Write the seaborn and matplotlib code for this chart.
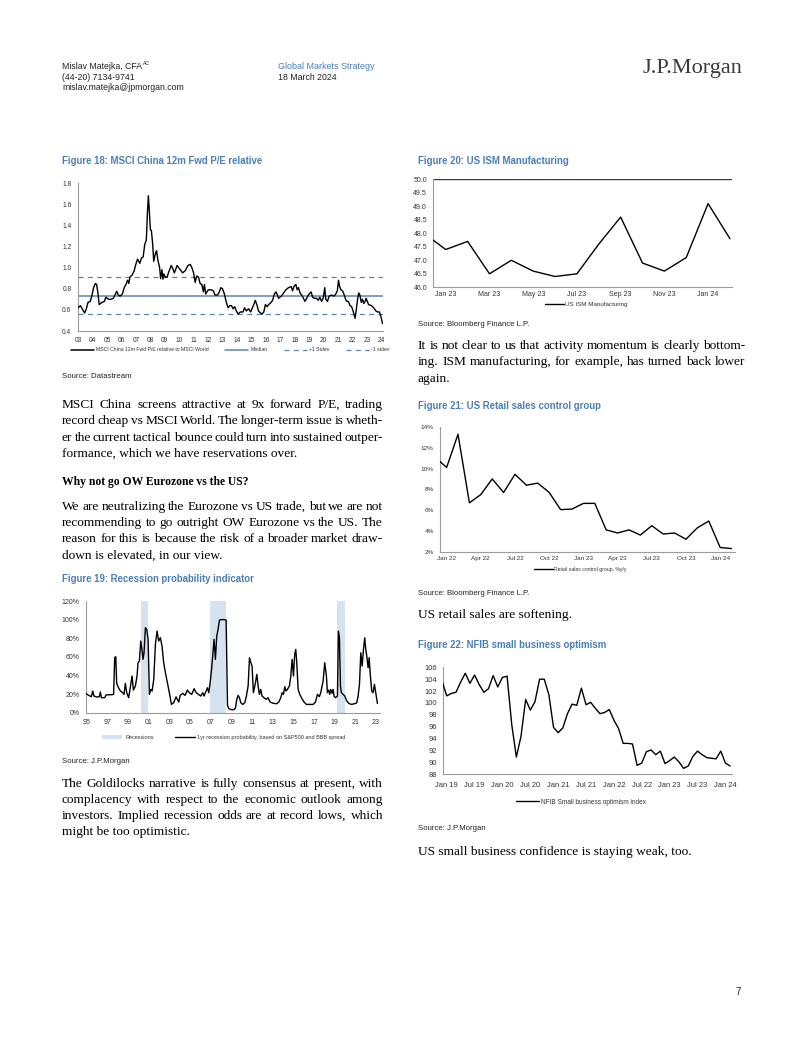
import numpy as np
import matplotlib
matplotlib.use("Agg")
import matplotlib.pyplot as plt
import seaborn as sns
from matplotlib import font_manager as fm
from matplotlib.lines import Line2D
from matplotlib.patches import Patch
from matplotlib.ticker import FixedLocator, FuncFormatter

# ---------------- data ----------------
# Figure 18: MSCI China 12m Fwd P/E relative to MSCI World
pe_year = [2003.0, 2003.16, 2003.32, 2003.45, 2003.57, 2003.68, 2003.84, 2003.96, 2004.07, 2004.19,
           2004.28, 2004.37, 2004.46, 2004.64, 2004.82, 2004.92, 2005.1, 2005.28, 2005.44, 2005.67,
           2005.78, 2005.9, 2006.06, 2006.19, 2006.31, 2006.42, 2006.51, 2006.58, 2006.74, 2006.88,
           2006.97, 2007.11, 2007.27, 2007.38, 2007.5, 2007.61, 2007.72, 2007.79, 2007.86, 2007.93,
           2008.0, 2008.07, 2008.16, 2008.23, 2008.34, 2008.43, 2008.52, 2008.64, 2008.71, 2008.8,
           2008.87, 2008.93, 2009.03, 2009.16, 2009.25, 2009.44, 2009.55, 2009.66, 2009.85, 2010.07,
           2010.23, 2010.41, 2010.6, 2010.76, 2010.87, 2010.99, 2011.1, 2011.21, 2011.33, 2011.44,
           2011.56, 2011.67, 2011.74, 2011.83, 2012.01, 2012.2, 2012.36, 2012.47, 2012.65, 2012.77,
           2012.88, 2012.99, 2013.1, 2013.27, 2013.38, 2013.5, 2013.61, 2013.73, 2013.84, 2013.95,
           2014.07, 2014.23, 2014.41, 2014.52, 2014.64, 2014.8, 2014.94, 2015.03, 2015.16, 2015.26,
           2015.37, 2015.48, 2015.62, 2015.73, 2015.85, 2015.96, 2016.08, 2016.19, 2016.35, 2016.46,
           2016.58, 2016.7, 2016.88, 2017.06, 2017.22, 2017.38, 2017.56, 2017.75, 2017.84, 2017.93,
           2018.07, 2018.16, 2018.25, 2018.36, 2018.52, 2018.7, 2018.82, 2018.93, 2019.12, 2019.23,
           2019.34, 2019.5, 2019.62, 2019.73, 2019.85, 2019.96, 2020.07, 2020.14, 2020.26, 2020.37,
           2020.53, 2020.71, 2020.83, 2020.94, 2021.02, 2021.1, 2021.19, 2021.3, 2021.42, 2021.51,
           2021.6, 2021.7, 2021.82, 2021.93, 2022.05, 2022.17, 2022.25, 2022.33, 2022.42, 2022.5,
           2022.6, 2022.68, 2022.78, 2022.86, 2022.93, 2023.1, 2023.3, 2023.46, 2023.6, 2023.73,
           2023.85, 2023.95, 2024.07]
pe_value = [0.62, 0.64, 0.60, 0.57, 0.61, 0.67, 0.68, 0.74, 0.81, 0.85,
            0.84, 0.76, 0.65, 0.67, 0.68, 0.72, 0.70, 0.70, 0.71, 0.775,
            0.74, 0.73, 0.75, 0.81, 0.84, 0.88, 0.85, 0.91, 0.93, 0.97,
            1.02, 1.08, 1.04, 1.09, 1.10, 1.22, 1.26, 1.50, 1.68, 1.53,
            1.36, 1.35, 1.22, 1.06, 1.13, 1.16, 1.07, 1.00, 0.895, 0.98,
            0.89, 0.94, 0.91, 0.91, 0.95, 1.02, 0.99, 0.95, 1.02, 0.98,
            0.95, 0.97, 1.02, 1.03, 1.00, 0.95, 0.86, 0.92, 0.91, 0.85,
            0.84, 0.77, 0.84, 0.75, 0.79, 0.79, 0.78, 0.74, 0.74, 0.77,
            0.81, 0.80, 0.76, 0.665, 0.62, 0.64, 0.64, 0.61, 0.63, 0.59,
            0.56, 0.58, 0.58, 0.62, 0.59, 0.61, 0.58, 0.61, 0.65, 0.69,
            0.65, 0.59, 0.57, 0.56, 0.58, 0.65, 0.63, 0.65, 0.67, 0.69,
            0.75, 0.77, 0.71, 0.73, 0.76, 0.79, 0.81, 0.82, 0.78, 0.82,
            0.84, 0.79, 0.81, 0.76, 0.73, 0.68, 0.71, 0.74, 0.77, 0.72,
            0.71, 0.71, 0.69, 0.72, 0.68, 0.71, 0.81, 0.70, 0.68, 0.73,
            0.74, 0.73, 0.75, 0.78, 0.88, 0.82, 0.79, 0.78, 0.74, 0.70,
            0.68, 0.68, 0.64, 0.63, 0.58, 0.52, 0.60, 0.69, 0.76, 0.74,
            0.67, 0.70, 0.66, 0.68, 0.71, 0.65, 0.64, 0.62, 0.59, 0.58,
            0.58, 0.54, 0.47]
pe_median = 0.735
pe_plus_sd = 0.91
pe_minus_sd = 0.56
pe_years_ticks = list(range(2003, 2025))
pe_tick_labels = [f"{y % 100:02d}" for y in pe_years_ticks]

# Figure 19: Recession probability indicator
rec_year = [1994.9, 1995.2, 1995.45, 1995.58, 1995.7, 1996.0, 1996.22, 1996.32, 1996.42, 1996.74,
            1996.87, 1997.13, 1997.39, 1997.6, 1997.71, 1997.81, 1997.9, 1998.03, 1998.26, 1998.48,
            1998.61, 1998.74, 1998.87, 1999.06, 1999.19, 1999.39, 1999.52, 1999.71, 1999.87, 1999.97,
            2000.1, 2000.23, 2000.36, 2000.45, 2000.55, 2000.68, 2000.81, 2000.94, 2001.07, 2001.2,
            2001.33, 2001.49, 2001.65, 2001.81, 2001.97, 2002.13, 2002.29, 2002.45, 2002.62, 2002.78,
            2003.0, 2003.2, 2003.42, 2003.65, 2003.91, 2004.05, 2004.3, 2004.52, 2004.75, 2004.94,
            2005.17, 2005.4, 2005.59, 2005.82, 2006.04, 2006.24, 2006.36, 2006.56, 2006.69, 2006.82,
            2006.95, 2007.07, 2007.2, 2007.33, 2007.46, 2007.59, 2007.72, 2007.85, 2008.08, 2008.3,
            2008.5, 2008.56, 2008.63, 2008.75, 2008.95, 2009.14, 2009.27, 2009.4, 2009.53, 2009.66,
            2009.79, 2009.92, 2010.11, 2010.3, 2010.43, 2010.63, 2010.76, 2010.89, 2011.01, 2011.14,
            2011.34, 2011.47, 2011.6, 2011.72, 2011.85, 2011.98, 2012.18, 2012.37, 2012.56, 2012.76,
            2013.08, 2013.4, 2013.6, 2013.79, 2013.92, 2014.05, 2014.18, 2014.3, 2014.43, 2014.63,
            2014.76, 2014.89, 2015.02, 2015.14, 2015.24, 2015.34, 2015.47, 2015.63, 2015.79, 2016.05,
            2016.27, 2016.6, 2016.92, 2017.15, 2017.34, 2017.53, 2017.66, 2017.89, 2018.05, 2018.21,
            2018.31, 2018.44, 2018.53, 2018.63, 2018.76, 2018.86, 2018.95, 2019.08, 2019.28, 2019.37,
            2019.47, 2019.57, 2019.66, 2019.83, 2019.99, 2020.18, 2020.38, 2020.63, 2020.96, 2021.15,
            2021.28, 2021.41, 2021.54, 2021.67, 2021.8, 2021.92, 2022.02, 2022.12, 2022.25, 2022.35,
            2022.47, 2022.6, 2022.73, 2022.86, 2022.99, 2023.15]
rec_prob = [20.8, 18.6, 17.2, 23.3, 17.9, 16.8, 17.2, 22.2, 16.1, 16.1,
            19.0, 19.3, 19.3, 19.7, 59.1, 60.1, 31.5, 27.9, 23.3, 21.5,
            19.7, 31.5, 21.5, 16.1, 25.0, 39.4, 24.3, 28.6, 39.4, 53.7,
            55.5, 77.0, 67.3, 57.3, 64.4, 91.3, 89.5, 78.8, 19.7, 25.0,
            23.3, 35.8, 73.4, 87.7, 77.0, 80.5, 71.6, 53.7, 43.0, 34.0,
            21.5, 9.0, 10.7, 17.0, 11.4, 18.6, 20.8, 18.6, 24.3, 21.5,
            19.7, 25.8, 21.5, 19.7, 17.9, 21.5, 17.9, 23.3, 26.8, 21.5,
            32.2, 44.7, 60.8, 78.8, 57.3, 82.3, 89.5, 99.5, 100.0, 100.0,
            99.5, 53.7, 8.0, 4.5, 3.5, 3.0, 3.5, 5.0, 14.3, 18.6,
            16.1, 10.7, 8.9, 10.7, 16.1, 28.6, 59.1, 53.7, 50.1, 21.5,
            32.2, 41.2, 28.6, 19.7, 25.0, 17.9, 16.1, 14.3, 16.1, 11.4,
            10.0, 9.7, 11.4, 16.1, 21.5, 19.7, 27.9, 23.3, 25.0, 28.6,
            39.4, 57.3, 39.4, 62.6, 68.0, 53.7, 25.0, 19.7, 16.1, 11.4,
            8.9, 8.9, 8.9, 11.4, 19.7, 17.2, 21.5, 34.0, 53.7, 39.4,
            21.5, 24.3, 19.7, 25.0, 20.8, 25.0, 17.9, 16.1, 17.9, 87.7,
            80.5, 28.6, 21.5, 19.7, 17.9, 12.5, 10.0, 8.9, 9.7, 10.7,
            17.9, 30.4, 64.4, 50.1, 68.0, 80.5, 68.0, 60.8, 48.3, 59.1,
            39.4, 23.3, 21.5, 30.4, 21.5, 10.0]
recession_start = [2000.22, 2006.98, 2019.22]
recession_end = [2000.95, 2008.48, 2019.99]
rec_tick_years = list(range(1995, 2024, 2))
rec_tick_labels = [f"{y % 100:02d}" for y in rec_tick_years]

# Figure 20: US ISM Manufacturing (Dec 22 .. Feb 24)
ism_months = ["Dec 22", "Jan 23", "Feb 23", "Mar 23", "Apr 23", "May 23", "Jun 23", "Jul 23",
              "Aug 23", "Sep 23", "Oct 23", "Nov 23", "Dec 23", "Jan 24", "Feb 24"]
ism_values = [48.0, 47.4, 47.7, 46.5, 47.0, 46.6, 46.4, 46.5, 47.6, 48.6, 46.9, 46.6, 47.1, 49.1, 47.8]
ism_threshold = 50.0

# Figure 21: US Retail sales control group, %y/y (Dec 21 .. Feb 24)
retail_months = ["Dec 21", "Jan 22", "Feb 22", "Mar 22", "Apr 22", "May 22", "Jun 22", "Jul 22",
                 "Aug 22", "Sep 22", "Oct 22", "Nov 22", "Dec 22", "Jan 23", "Feb 23", "Mar 23",
                 "Apr 23", "May 23", "Jun 23", "Jul 23", "Aug 23", "Sep 23", "Oct 23", "Nov 23",
                 "Dec 23", "Jan 24", "Feb 24"]
retail_values = [11.1, 10.1, 13.3, 6.7, 7.5, 9.0, 7.7, 9.45, 8.4, 8.6, 7.7, 6.05, 6.1, 6.65, 6.65,
                 4.1, 3.8, 4.1, 3.6, 4.5, 3.7, 3.8, 3.2, 4.3, 4.95, 2.4, 2.3]

# Figure 22: NFIB small business optimism (Dec 18 .. Feb 24)
nfib_months = ["Dec 18"] + [f"{m} {y}" for y in range(19, 24) for m in
               ["Jan", "Feb", "Mar", "Apr", "May", "Jun", "Jul", "Aug", "Sep", "Oct", "Nov", "Dec"]] + ["Jan 24", "Feb 24"]
nfib_values = [103.7,
               101.2, 101.6, 101.8, 103.5, 105.0, 103.3, 104.7, 103.1, 101.8, 102.4, 104.6, 102.7,
               104.3, 104.5, 96.4, 90.9, 94.4, 100.6, 98.8, 100.2, 104.0, 104.0, 101.4, 95.9,
               95.0, 95.8, 98.2, 99.8, 99.6, 102.5, 99.7, 100.1, 99.1, 98.2, 98.4, 98.9,
               97.1, 95.7, 93.2, 93.2, 93.1, 89.5, 89.9, 91.8, 92.1, 91.3, 91.9, 89.8,
               90.3, 90.9, 90.1, 89.0, 89.4, 91.0, 91.9, 91.3, 90.8, 90.7, 90.6, 91.9,
               89.9, 89.4]

# ---------------- style ----------------
sns.set_theme(style="white")
names = {f.name for f in fm.fontManager.ttflist}
SANS = "Liberation Sans" if "Liberation Sans" in names else "DejaVu Sans"
SERIF = "Liberation Serif" if "Liberation Serif" in names else "DejaVu Serif"
plt.rcParams['font.family'] = [SANS, 'DejaVu Sans']

BLUE = "#4a7ebb"
AXIS = "#9c9c9c"
TXT = "#333333"
BAND = "#d5e3f0"
REF = "#5b84b1"

W, H = 802, 1037
fig = plt.figure(figsize=(W / 100, H / 100), dpi=100)
fig.patch.set_facecolor("white")
renderer = fig.canvas.get_renderer()


def fy(y):
    return 1 - y / H


def add_axes(l, t, r, b):
    return fig.add_axes([l / W, 1 - b / H, (r - l) / W, (b - t) / H])


def style(ax, size):
    sns.despine(ax=ax)
    for s in ["left", "bottom"]:
        ax.spines[s].set_color(AXIS)
        ax.spines[s].set_linewidth(0.8)
    ax.tick_params(axis="both", labelsize=size, colors=TXT, length=2.5, width=0.6, pad=2)
    ax.tick_params(axis="both", which="both", color=AXIS)
    ax.set_xlabel("")
    ax.set_ylabel("")
    ax.grid(False)
    ax.set_facecolor("white")


def title(x, y, s):
    fig.text(x / W, fy(y + 3), s, family=SANS, weight="bold", size=6.9, color=BLUE, va="baseline")


def small(x, y, s, size=5.6, color="#222222"):
    fig.text(x / W, fy(y + 2.3), s, family=SANS, size=size, color=color, va="baseline")


BODY = dict(family=SERIF, color="black", va="baseline")


def word_width(s, weight, size):
    t = fig.text(0, 0, s, weight=weight, size=size, **BODY)
    w = t.get_window_extent(renderer).width
    t.remove()
    return w


def paragraph(x, right, y0, lines, step=16.5, weight="normal", size=9.6):
    """Justified paragraph (all words share one baseline); the last line is left-aligned."""
    for i, s in enumerate(lines):
        y = fy(y0 + i * step + 3.6)
        words = s.split(" ")
        if i == len(lines) - 1 or len(words) < 2:
            fig.text(x / W, y, s, weight=weight, size=size, **BODY)
            continue
        widths = [word_width(w_, weight, size) for w_ in words]
        gap = (right - x - sum(widths)) / (len(words) - 1)
        cx = x
        for w_, ww in zip(words, widths):
            fig.text(cx / W, y, w_, weight=weight, size=size, **BODY)
            cx += ww + gap


# ---------------- header ----------------
small(62, 67, "Mislav Matejka, CFA", 6.3)
small(143, 63, "AC", 3.6)
small(62, 77.5, "(44-20) 7134-9741", 6.3)
small(62, 88, "mislav.matejka@jpmorgan.com", 6.3)
small(278, 66.5, "Global Markets Strategy", 6.5, BLUE)
small(278, 77.5, "18 March 2024", 6.3)
fig.text(742 / W, fy(68), "J.P.Morgan", family=SERIF, size=16, color="#3a3a3a", va="center", ha="right")
fig.text(741 / W, fy(992), "7", family=SANS, size=7, color="#222222", va="center", ha="right")

# ---------------- Figure 18 ----------------
title(62, 161, "Figure 18: MSCI China 12m Fwd P/E relative")
ax = add_axes(77.7, 183, 383, 331)
ax.axhline(pe_plus_sd, color=REF, lw=0.9, ls=(0, (4, 3.5)), zorder=1)
ax.axhline(pe_minus_sd, color=REF, lw=0.9, ls=(0, (4, 3.5)), zorder=1)
ax.axhline(pe_median, color=REF, lw=1.1, zorder=1)
sns.lineplot(x=pe_year, y=pe_value, ax=ax, color="black", linewidth=1.0, estimator=None, sort=False,
             legend=False, zorder=3)
ax.set_xlim(2002.97, 2024.1)
ax.set_ylim(0.4, 1.8)
ax.yaxis.set_major_locator(FixedLocator(np.round(np.arange(0.4, 1.81, 0.2), 1)))
ax.yaxis.set_major_formatter(FuncFormatter(lambda v, p: f"{v:.1f}"))
ax.set_xticks(pe_years_ticks)
ax.set_xticklabels(pe_tick_labels)
style(ax, 4.8)
h18 = [Line2D([], [], color="black", lw=1.1), Line2D([], [], color=REF, lw=1.1),
       Line2D([], [], color=REF, lw=0.9, ls=(0, (4, 3.5))), Line2D([], [], color=REF, lw=0.9, ls=(0, (4, 3.5)))]
l18 = ["MSCI China 12m Fwd P/E relative to MSCI World", "Median", "+1 Stdev", "-1 stdev"]
ax.legend(h18, l18, loc="center", bbox_to_anchor=(0.5, -0.128), ncol=4, frameon=False,
          fontsize=3.7, handlelength=4.5, handletextpad=0.4, columnspacing=3.2, labelcolor=TXT)
small(62, 376, "Source: Datastream")

paragraph(62, 383, 404, ["MSCI China screens attractive at 9x forward P/E, trading",
                         "record cheap vs MSCI World. The longer-term issue is wheth-",
                         "er the current tactical bounce could turn into sustained outper-",
                         "formance, which we have reservations over."])
paragraph(62, 383, 481, ["Why not go OW Eurozone vs the US?"], weight="bold", size=8.4)
paragraph(62, 383, 506, ["We are neutralizing the Eurozone vs US trade, but we are not",
                         "recommending to go outright OW Eurozone vs the US. The",
                         "reason for this is because the risk of a broader market draw-",
                         "down is elevated, in our view."], step=16.3)

# ---------------- Figure 19 ----------------
title(62, 579, "Figure 19: Recession probability indicator")
ax = add_axes(85.7, 601, 380, 712.7)
for a, b in zip(recession_start, recession_end):
    ax.axvspan(a, b, color=BAND, lw=0, zorder=0)
sns.lineplot(x=rec_year, y=rec_prob, ax=ax, color="black", linewidth=1.0, estimator=None, sort=False,
             legend=False, zorder=3)
ax.set_xlim(1994.9, 2023.4)
ax.set_ylim(0, 120)
ax.yaxis.set_major_locator(FixedLocator(range(0, 121, 20)))
ax.yaxis.set_major_formatter(FuncFormatter(lambda v, p: f"{v:.0f}%"))
ax.set_xticks(rec_tick_years)
ax.set_xticklabels(rec_tick_labels)
style(ax, 5.0)
h19 = [Patch(facecolor=BAND, edgecolor="none"), Line2D([], [], color="black", lw=1.0)]
l19 = ["Recessions", "1yr recession probability, based on S&P500 and BBB spread"]
ax.legend(h19, l19, loc="center", bbox_to_anchor=(0.47, -0.218), ncol=2, frameon=False,
          fontsize=4.0, handlelength=3.6, handleheight=0.7, handletextpad=0.5, columnspacing=3.8,
          labelcolor=TXT)
small(62, 761, "Source: J.P.Morgan")
paragraph(62, 383, 783, ["The Goldilocks narrative is fully consensus at present, with",
                         "complacency with respect to the economic outlook among",
                         "investors. Implied recession odds are at record lows, which",
                         "might be too optimistic."], step=16)

# ---------------- Figure 20 ----------------
title(418, 161, "Figure 20: US ISM Manufacturing")
ax = add_axes(433.3, 179.3, 731.7, 287.3)
xi = np.arange(len(ism_values))
sns.lineplot(x=xi, y=ism_values, ax=ax, color="black", linewidth=1.0, estimator=None, sort=False,
             legend=False, zorder=3)
ax.axhline(ism_threshold, color="#3c3c3c", lw=1.0, zorder=2)
ax.set_xlim(0.43, len(ism_values) - 1 + 0.08)
ax.set_ylim(46, 50)
ax.yaxis.set_major_locator(FixedLocator(np.arange(46, 50.01, 0.5)))
ax.yaxis.set_major_formatter(FuncFormatter(lambda v, p: f"{v:.1f}"))
ax.set_xticks(xi[1::2])
ax.set_xticklabels(ism_months[1::2])
ax.set_xticks(xi[:-1] + 0.5, minor=True)
style(ax, 5.0)
ax.tick_params(axis="x", which="major", length=0, pad=3)
ax.tick_params(axis="x", which="minor", length=2.5, width=0.6, color=AXIS)
ax.legend([Line2D([], [], color="black", lw=1.0)], ["US ISM Manufacturing"], loc="center",
          bbox_to_anchor=(0.513, -0.155), frameon=False, fontsize=4.5, handlelength=3.0,
          handletextpad=0.3, labelcolor=TXT)
small(418, 324, "Source: Bloomberg Finance L.P.")
paragraph(418, 745, 345, ["It is not clear to us that activity momentum is clearly bottom-",
                          "ing. ISM manufacturing, for example, has turned back lower",
                          "again."])

# ---------------- Figure 21 ----------------
title(418, 406, "Figure 21: US Retail sales control group")
ax = add_axes(440, 427, 735, 551.7)
xi = np.arange(len(retail_values))
sns.lineplot(x=xi, y=retail_values, ax=ax, color="black", linewidth=1.0, estimator=None, sort=False,
             legend=False, zorder=3)
ax.set_xlim(0.42, len(retail_values) - 1 + 0.3)
ax.set_ylim(2, 14)
ax.yaxis.set_major_locator(FixedLocator(range(2, 15, 2)))
ax.yaxis.set_major_formatter(FuncFormatter(lambda v, p: f"{v:.0f}%"))
ax.set_xticks(xi[1::3])
ax.set_xticklabels(retail_months[1::3])
ax.set_xticks(xi[:-1] + 0.5, minor=True)
style(ax, 4.6)
ax.tick_params(axis="x", which="major", length=0, pad=3)
ax.tick_params(axis="x", which="minor", length=2.0, width=0.5, color=AXIS)
ax.legend([Line2D([], [], color="black", lw=1.0)], ["Retail sales control group, %y/y"], loc="center",
          bbox_to_anchor=(0.476, -0.139), frameon=False, fontsize=3.7, handlelength=3.6,
          handletextpad=0.3, labelcolor=TXT)
small(418, 593, "Source: Bloomberg Finance L.P.")
paragraph(418, 745, 614, ["US retail sales are softening."])

# ---------------- Figure 22 ----------------
title(418, 645, "Figure 22: NFIB small business optimism")
ax = add_axes(443.3, 667.3, 731.7, 774.3)
xi = np.arange(len(nfib_values))
sns.lineplot(x=xi, y=nfib_values, ax=ax, color="black", linewidth=1.0, estimator=None, sort=False,
             legend=False, zorder=3)
ax.set_xlim(0.27, len(nfib_values) - 1 + 0.36)
ax.set_ylim(88, 106)
ax.yaxis.set_major_locator(FixedLocator(range(88, 107, 2)))
ax.yaxis.set_major_formatter(FuncFormatter(lambda v, p: f"{v:.0f}"))
ax.set_xticks(xi[1::6])
ax.set_xticklabels(nfib_months[1::6])
style(ax, 5.4)
ax.tick_params(axis="x", which="major", length=2.5, pad=3)
ax.legend([Line2D([], [], color="black", lw=1.0)], ["NFIB Small business optimism index"], loc="center",
          bbox_to_anchor=(0.477, -0.259), frameon=False, fontsize=4.7, handlelength=3.6,
          handletextpad=0.3, labelcolor=TXT)
small(418, 828, "Source: J.P.Morgan")
paragraph(418, 745, 851, ["US small business confidence is staying weak, too."])

fig.savefig("out.png", dpi=100, facecolor="white")
